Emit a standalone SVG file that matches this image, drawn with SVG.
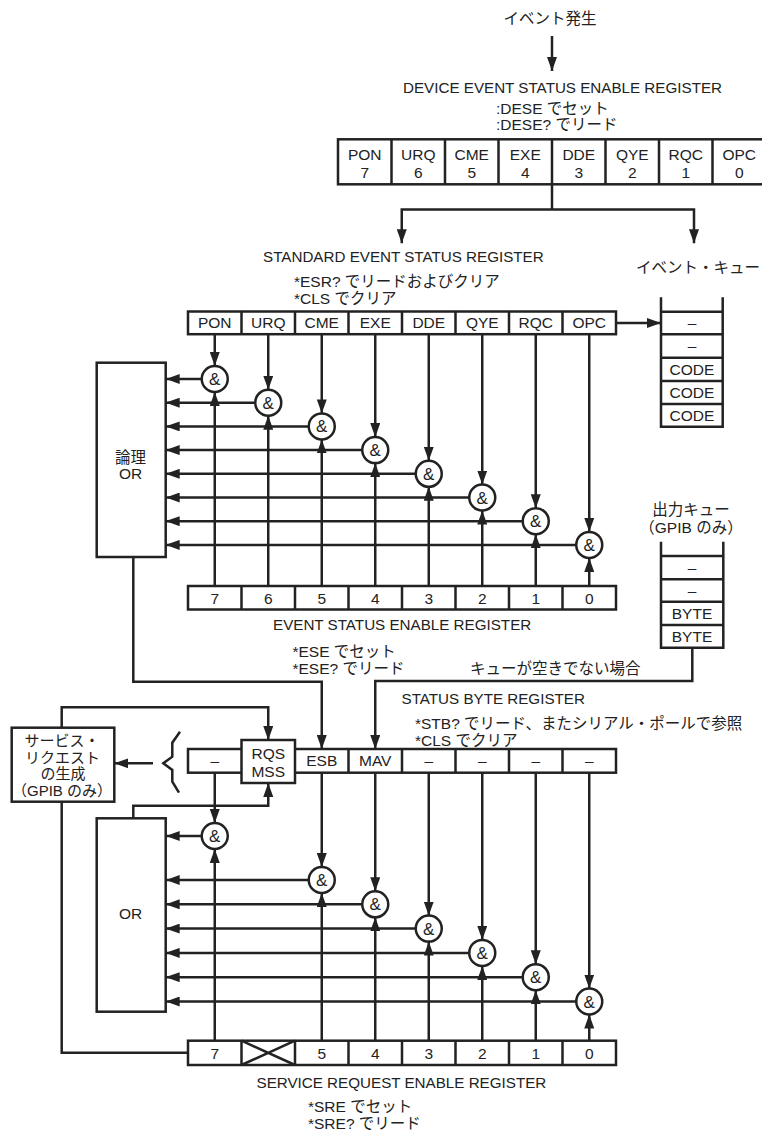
<svg xmlns="http://www.w3.org/2000/svg" width="762" height="1133" viewBox="0 0 762 1133">
<style>
.ln{stroke:#222;stroke-width:2.5;fill:none}
.bx{stroke:#222;stroke-width:2.5;fill:#fff}
.t{font-family:"Liberation Sans","Noto Sans CJK JP",sans-serif;font-size:15.5px;fill:#222}
.h{font-size:15.2px}
.m{text-anchor:middle}
.gate circle{fill:#fff;stroke:#222;stroke-width:2.5}
.gate text{font-family:"Liberation Sans",sans-serif;font-size:17px;fill:#222;text-anchor:middle}
</style>
<defs>
<marker id="ah" viewBox="0 0 14 10" refX="14" refY="5" markerWidth="14" markerHeight="10" orient="auto-start-reverse" markerUnits="userSpaceOnUse"><path d="M0,0 L14,5 L0,10 z" fill="#222"/></marker>
</defs>
<rect width="762" height="1133" fill="#fff"/>

<!-- texts -->
<g id="labels">
<text class="t m" x="550" y="24">イベント発生</text>
<text class="t h" x="403" y="92.5">DEVICE EVENT STATUS ENABLE REGISTER</text>
<text class="t" x="496" y="113.5">:DESE でセット</text>
<text class="t" x="496" y="130">:DESE? でリード</text>
<text class="t h" x="263" y="261.5">STANDARD EVENT STATUS REGISTER</text>
<text class="t" x="294" y="286.5">*ESR? でリードおよびクリア</text>
<text class="t" x="294" y="303.5">*CLS でクリア</text>
<text class="t" x="636" y="273">イベント・キュー</text>
<text class="t h" x="273" y="629.5">EVENT STATUS ENABLE REGISTER</text>
<text class="t" x="292.5" y="656.5">*ESE でセット</text>
<text class="t" x="292.5" y="673.5">*ESE? でリード</text>
<text class="t" x="470" y="674">キューが空きでない場合</text>
<text class="t m" x="691" y="515">出力キュー</text>
<text class="t m" x="691" y="533">（GPIB のみ）</text>
<text class="t h" x="401.5" y="704">STATUS BYTE REGISTER</text>
<text class="t" x="415" y="729">*STB? でリード、またシリアル・ポールで参照</text>
<text class="t" x="415" y="746">*CLS でクリア</text>
<text class="t h" x="256.5" y="1088">SERVICE REQUEST ENABLE REGISTER</text>
<text class="t" x="308" y="1111.5">*SRE でセット</text>
<text class="t" x="308" y="1128.5">*SRE? でリード</text>
</g>

<!-- DESE register -->
<g id="dese-register">
<rect class="bx" x="338" y="139.3" width="428" height="45"/>
<path class="ln" d="M391.5,139.3V184.3M445,139.3V184.3M498.5,139.3V184.3M552,139.3V184.3M605.5,139.3V184.3M659,139.3V184.3M712.5,139.3V184.3"/>
<g class="t m">
<text x="364.75" y="159.5">PON</text><text x="364.75" y="177.5">7</text>
<text x="418.25" y="159.5">URQ</text><text x="418.25" y="177.5">6</text>
<text x="471.75" y="159.5">CME</text><text x="471.75" y="177.5">5</text>
<text x="525.25" y="159.5">EXE</text><text x="525.25" y="177.5">4</text>
<text x="578.75" y="159.5">DDE</text><text x="578.75" y="177.5">3</text>
<text x="632.25" y="159.5">QYE</text><text x="632.25" y="177.5">2</text>
<text x="685.75" y="159.5">RQC</text><text x="685.75" y="177.5">1</text>
<text x="739.25" y="159.5">OPC</text><text x="739.25" y="177.5">0</text>
</g>
</g>

<!-- ESR register -->
<g id="esr-register">
<rect class="bx" x="188" y="311.5" width="428" height="22.7"/>
<path class="ln" d="M241.5,311.5V334.2M295,311.5V334.2M348.5,311.5V334.2M402,311.5V334.2M455.5,311.5V334.2M509,311.5V334.2M562.5,311.5V334.2"/>
<g class="t m">
<text x="214.75" y="328">PON</text><text x="268.25" y="328">URQ</text><text x="321.75" y="328">CME</text><text x="375.25" y="328">EXE</text>
<text x="428.75" y="328">DDE</text><text x="482.25" y="328">QYE</text><text x="535.75" y="328">RQC</text><text x="589.25" y="328">OPC</text>
</g>
</g>

<!-- Event queue -->
<g id="event-queue">
<path class="ln" d="M661,297.3V426.7H722.7V297.3"/>
<path class="ln" d="M661,311.7H722.7M661,334.3H722.7M661,357.7H722.7M661,381H722.7M661,404H722.7"/>
<g class="t m">
<text x="692" y="328">–</text><text x="692" y="351">–</text>
<text x="692" y="375">CODE</text><text x="692" y="398">CODE</text><text x="692" y="421">CODE</text>
</g>
</g>

<!-- Logic OR (upper) -->
<g id="or-upper">
<rect class="bx" x="96.7" y="362.7" width="69" height="194.3"/>
<text class="t m" x="130.5" y="463">論理</text>
<text class="t m" x="130.5" y="479">OR</text>
</g>

<!-- ESE register -->
<g id="ese-register">
<rect class="bx" x="188" y="586" width="428" height="23.5"/>
<path class="ln" d="M241.5,586V609.5M295,586V609.5M348.5,586V609.5M402,586V609.5M455.5,586V609.5M509,586V609.5M562.5,586V609.5"/>
<g class="t m">
<text x="214.75" y="603.5">7</text><text x="268.25" y="603.5">6</text><text x="321.75" y="603.5">5</text><text x="375.25" y="603.5">4</text>
<text x="428.75" y="603.5">3</text><text x="482.25" y="603.5">2</text><text x="535.75" y="603.5">1</text><text x="589.25" y="603.5">0</text>
</g>
</g>

<!-- Output queue -->
<g id="output-queue">
<path class="ln" d="M661,541.7V647.7H723.3V541.7"/>
<path class="ln" d="M661,556H723.3M661,579.3H723.3M661,601.7H723.3M661,625H723.3"/>
<g class="t m">
<text x="692" y="572.5">–</text><text x="692" y="595.5">–</text>
<text x="692" y="619">BYTE</text><text x="692" y="642">BYTE</text>
</g>
</g>

<!-- Status byte register -->
<g id="stb-register">
<rect class="bx" x="188" y="749" width="428" height="23.7"/>
<path class="ln" d="M348.5,749V772.7M402,749V772.7M455.5,749V772.7M509,749V772.7M562.5,749V772.7"/>
<rect class="bx" x="241.5" y="740" width="53.5" height="43"/>
<g class="t m">
<text x="214.75" y="766">–</text>
<text x="268.25" y="759">RQS</text><text x="268.25" y="776.5">MSS</text>
<text x="321.75" y="766">ESB</text><text x="375.25" y="766">MAV</text>
<text x="428.75" y="766">–</text><text x="482.25" y="766">–</text><text x="535.75" y="766">–</text><text x="589.25" y="766">–</text>
</g>
</g>

<!-- Service request generation -->
<g id="service-request">
<rect class="bx" x="11.7" y="727.7" width="102.6" height="74"/>
<g class="t m" style="font-size:15px">
<text x="62" y="746">サービス・</text>
<text x="62.5" y="762.5">リクエスト</text>
<text x="63" y="779">の生成</text>
<text x="62" y="796">（GPIB のみ）</text>
</g>
</g>
<path id="brace" class="ln" d="M180,731.7L172.3,742.7V756.7L163.3,763.3L172.3,770V781.7L179,792.7"/>

<!-- OR (lower) -->
<g id="or-lower">
<rect class="bx" x="96.7" y="818.3" width="69" height="193.4"/>
<text class="t m" x="130.5" y="918.5">OR</text>
</g>

<!-- SRE register -->
<g id="sre-register">
<rect class="bx" x="188" y="1040.7" width="428" height="24.3"/>
<path class="ln" d="M241.5,1040.7V1065M295,1040.7V1065M348.5,1040.7V1065M402,1040.7V1065M455.5,1040.7V1065M509,1040.7V1065M562.5,1040.7V1065"/>
<path class="ln" d="M241.5,1040.7L295,1065M241.5,1065L295,1040.7"/>
<g class="t m">
<text x="214.75" y="1058.5">7</text><text x="321.75" y="1058.5">5</text><text x="375.25" y="1058.5">4</text>
<text x="428.75" y="1058.5">3</text><text x="482.25" y="1058.5">2</text><text x="535.75" y="1058.5">1</text><text x="589.25" y="1058.5">0</text>
</g>
</g>

<!-- connectors -->
<g id="connectors" class="ln" marker-end="url(#ah)">
<path d="M552,36V71"/>
<path d="M552,184.3V209.5" marker-end="none"/>
<path d="M401.75,243.3V209.5H694V243.3" marker-start="url(#ah)"/>
<path d="M616,323H661"/>
<!-- upper: ESR down to gates -->
<path d="M214.75,334.2V366"/>
<path d="M268.25,334.2V389.7"/>
<path d="M321.75,334.2V413.4"/>
<path d="M375.25,334.2V437.1"/>
<path d="M428.75,334.2V460.8"/>
<path d="M482.25,334.2V484.5"/>
<path d="M535.75,334.2V508.2"/>
<path d="M589.25,334.2V531.9"/>
<!-- upper: ESE up to gates -->
<path d="M214.75,586V392"/>
<path d="M268.25,586V415.7"/>
<path d="M321.75,586V439.4"/>
<path d="M375.25,586V463.1"/>
<path d="M428.75,586V486.8"/>
<path d="M482.25,586V510.5"/>
<path d="M535.75,586V534.2"/>
<path d="M589.25,586V557.9"/>
<!-- upper: gates to OR -->
<path d="M201.75,379H165.7"/>
<path d="M255.25,402.7H165.7"/>
<path d="M308.75,426.4H165.7"/>
<path d="M362.25,450.1H165.7"/>
<path d="M415.75,473.8H165.7"/>
<path d="M469.25,497.5H165.7"/>
<path d="M522.75,521.2H165.7"/>
<path d="M576.25,544.9H165.7"/>
<!-- middle -->
<path d="M133.3,557V681.7H321.75V749"/>
<path d="M692.3,647.7V681H375.25V749"/>
<path d="M61.7,727.7V707.3H268.25V740"/>
<path d="M133.3,818.3V805.7H268.25V783"/>
<path d="M153,763.3H114.3"/>
<path d="M61.7,801.7V1052.8H188" marker-end="none"/>
<!-- lower: STB down to gates -->
<path d="M214.75,772.7V823"/>
<path d="M321.75,772.7V867"/>
<path d="M375.25,772.7V891.3"/>
<path d="M428.75,772.7V915.6"/>
<path d="M482.25,772.7V939.9"/>
<path d="M535.75,772.7V964.2"/>
<path d="M589.25,772.7V988.5"/>
<!-- lower: SRE up to gates -->
<path d="M214.75,1040.7V849"/>
<path d="M321.75,1040.7V893"/>
<path d="M375.25,1040.7V917.3"/>
<path d="M428.75,1040.7V941.6"/>
<path d="M482.25,1040.7V965.9"/>
<path d="M535.75,1040.7V990.2"/>
<path d="M589.25,1040.7V1014.5"/>
<!-- lower: gates to OR -->
<path d="M201.75,836H165.7"/>
<path d="M308.75,880H165.7"/>
<path d="M362.25,904.3H165.7"/>
<path d="M415.75,928.6H165.7"/>
<path d="M469.25,952.9H165.7"/>
<path d="M522.75,977.2H165.7"/>
<path d="M576.25,1001.5H165.7"/>
</g>

<!-- gates -->
<g id="esr-and-7" class="gate"><circle cx="214.75" cy="379" r="13"/><text x="214.75" y="385">&amp;</text></g>
<g id="esr-and-6" class="gate"><circle cx="268.25" cy="402.7" r="13"/><text x="268.25" y="408.7">&amp;</text></g>
<g id="esr-and-5" class="gate"><circle cx="321.75" cy="426.4" r="13"/><text x="321.75" y="432.4">&amp;</text></g>
<g id="esr-and-4" class="gate"><circle cx="375.25" cy="450.1" r="13"/><text x="375.25" y="456.1">&amp;</text></g>
<g id="esr-and-3" class="gate"><circle cx="428.75" cy="473.8" r="13"/><text x="428.75" y="479.8">&amp;</text></g>
<g id="esr-and-2" class="gate"><circle cx="482.25" cy="497.5" r="13"/><text x="482.25" y="503.5">&amp;</text></g>
<g id="esr-and-1" class="gate"><circle cx="535.75" cy="521.2" r="13"/><text x="535.75" y="527.2">&amp;</text></g>
<g id="esr-and-0" class="gate"><circle cx="589.25" cy="544.9" r="13"/><text x="589.25" y="550.9">&amp;</text></g>

<g id="stb-and-7" class="gate"><circle cx="214.75" cy="836" r="13"/><text x="214.75" y="842">&amp;</text></g>
<g id="stb-and-5" class="gate"><circle cx="321.75" cy="880" r="13"/><text x="321.75" y="886">&amp;</text></g>
<g id="stb-and-4" class="gate"><circle cx="375.25" cy="904.3" r="13"/><text x="375.25" y="910.3">&amp;</text></g>
<g id="stb-and-3" class="gate"><circle cx="428.75" cy="928.6" r="13"/><text x="428.75" y="934.6">&amp;</text></g>
<g id="stb-and-2" class="gate"><circle cx="482.25" cy="952.9" r="13"/><text x="482.25" y="958.9">&amp;</text></g>
<g id="stb-and-1" class="gate"><circle cx="535.75" cy="977.2" r="13"/><text x="535.75" y="983.2">&amp;</text></g>
<g id="stb-and-0" class="gate"><circle cx="589.25" cy="1001.5" r="13"/><text x="589.25" y="1007.5">&amp;</text></g>
</svg>
